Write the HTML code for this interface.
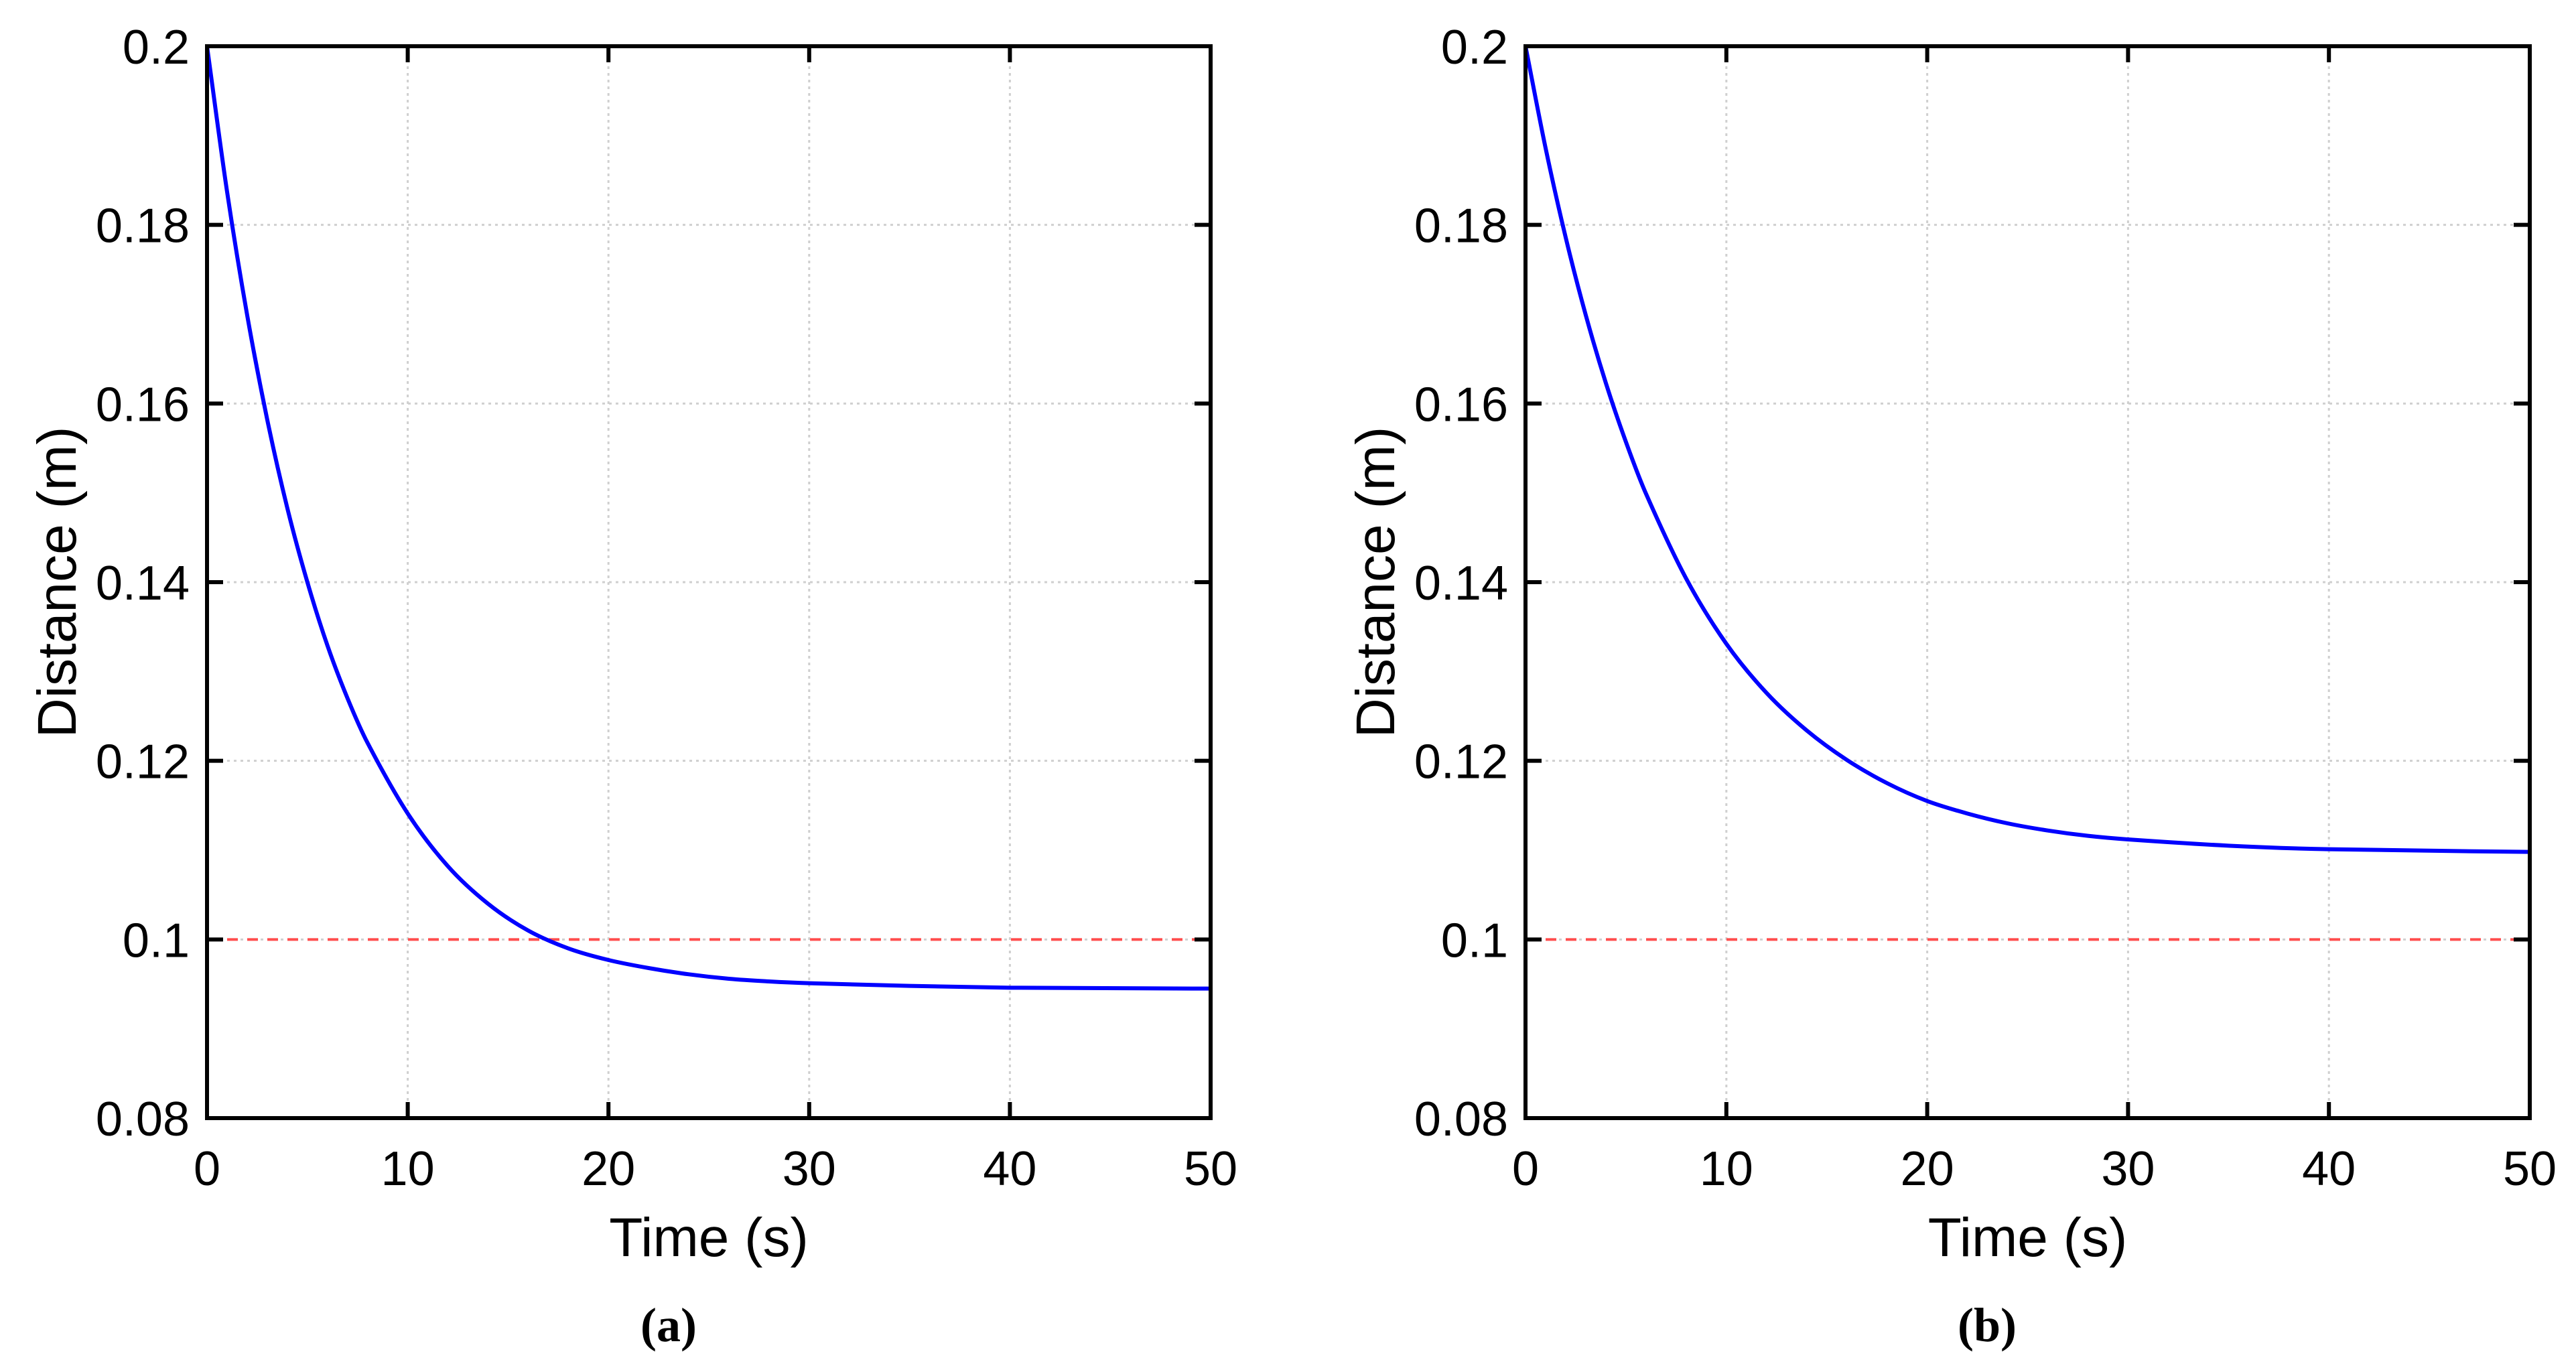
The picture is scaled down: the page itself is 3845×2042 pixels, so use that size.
<!DOCTYPE html>
<html><head><meta charset="utf-8"><style>
html,body{margin:0;padding:0;background:#fff;}
svg{display:block;}
text{font-family:"Liberation Sans",Arial,sans-serif;fill:#000;}
.cap{font-family:"Liberation Serif","Times New Roman",serif;font-weight:bold;}
</style></head><body>
<svg id="fig" width="3845" height="2042" viewBox="0 0 3845 2042" xmlns="http://www.w3.org/2000/svg"></svg>
<script>
const timesA = [0,1,2,3,4,5,6,7,8,10,12,14,16,18,20,22,24,26,28,30,35,40,50];
const distA  = [0.2,0.1837,0.1699,0.1582,0.1483,0.140,0.1329,0.127,0.122,0.1141,0.1082,0.1040,0.1010,0.0990,0.0977,0.0968,0.0961,0.0956,0.0953,0.0951,0.0948,0.0946,0.0945];
const timesB = [0,1,2,3,4,5,6,8,10,12,14,16,18,20,22,24,26,28,30,35,40,50];
const distB  = [0.2,0.1886,0.1786,0.1699,0.1623,0.1557,0.1499,0.1404,0.1331,0.1276,0.1234,0.1201,0.1175,0.1155,0.1141,0.1130,0.1122,0.1116,0.1112,0.1105,0.1101,0.1098];
const refValue = 0.1;
const xTicks = [0,10,20,30,40,50];
const yTicks = [0.08,0.1,0.12,0.14,0.16,0.18,0.2];
const yTickLabels = ["0.08","0.1","0.12","0.14","0.16","0.18","0.2"];

const NS="http://www.w3.org/2000/svg";
const svg=document.getElementById('fig');
function mk(tag,attrs,parent){const e=document.createElementNS(NS,tag);for(const k in attrs)e.setAttribute(k,attrs[k]);(parent||svg).appendChild(e);return e;}

function panel(id,left,right,times,dist,caption,capX){
  const top=69,bottom=1669;
  const xs=t=>left+(t-0)/(50-0)*(right-left);
  const ys=v=>bottom-(v-0.08)/(0.2-0.08)*(bottom-top);
  const g=mk('g',{});
  
  
  xTicks.forEach(t=>{ if(t===0||t===50)return;
    const l=mk('line',{x1:xs(t),x2:xs(t),y1:top,y2:bottom,stroke:'#cfcfcf','stroke-width':3,'stroke-dasharray':'4 6'},g);
    
    
  });
  yTicks.forEach(v=>{ if(v===0.08||v===0.2)return;
    const l=mk('line',{x1:left,x2:right,y1:ys(v),y2:ys(v),stroke:'#cfcfcf','stroke-width':3,'stroke-dasharray':'4 6'},g);
    
    
  });
  const r=mk('line',{x1:left,x2:right,y1:ys(refValue),y2:ys(refValue),stroke:'#ff4d4d','stroke-width':4,'stroke-dasharray':'16 14'},g);
  
  
  const p=times.map((t,i)=>[xs(t),ys(dist[i])]);
  let d='M'+p[0][0]+','+p[0][1];
  for(let i=0;i<p.length-1;i++){
    const p0=p[Math.max(0,i-1)],p1=p[i],p2=p[i+1],p3=p[Math.min(p.length-1,i+2)];
    const h=p2[0]-p1[0];
    const m1=(p2[1]-p0[1])/(p2[0]-p0[0]||1), m2=(p3[1]-p1[1])/(p3[0]-p1[0]||1);
    const c1=[p1[0]+h/3,p1[1]+m1*h/3];
    const c2=[p2[0]-h/3,p2[1]-m2*h/3];
    d+=' C'+c1[0]+','+c1[1]+' '+c2[0]+','+c2[1]+' '+p2[0]+','+p2[1];
  }
  const c=mk('path',{d:d,fill:'none',stroke:'#0000ff','stroke-width':6},g);
  
  
  xTicks.forEach(t=>{
    mk('line',{x1:xs(t),x2:xs(t),y1:bottom,y2:bottom-24,stroke:'#000','stroke-width':6},g);
    mk('line',{x1:xs(t),x2:xs(t),y1:top,y2:top+24,stroke:'#000','stroke-width':6},g);
    const tx=mk('text',{x:xs(t),y:1769,'font-size':72,'text-anchor':'middle'},g);
    tx.textContent=t;
    
    
  });
  yTicks.forEach((v,i)=>{
    mk('line',{x1:left,x2:left+24,y1:ys(v),y2:ys(v),stroke:'#000','stroke-width':6},g);
    mk('line',{x1:right,x2:right-24,y1:ys(v),y2:ys(v),stroke:'#000','stroke-width':6},g);
    const tx=mk('text',{x:left-26,y:ys(v)+26,'font-size':72,'text-anchor':'end'},g);
    tx.textContent=yTickLabels[i];
    
    
  });
  const box=mk('rect',{x:left,y:top,width:right-left,height:bottom-top,fill:'none',stroke:'#000','stroke-width':6},g);
  
  
  const xt=mk('text',{x:(left+right)/2,y:1875,'font-size':82,'text-anchor':'middle'},g);
  xt.textContent='Time (s)';
  
  
  const yx=left-196, yy=(top+bottom)/2;
  const yt=mk('text',{x:yx,y:yy,'font-size':82,'text-anchor':'middle',transform:'rotate(-90 '+yx+' '+yy+')'},g);
  yt.textContent='Distance (m)';
  
  
  const cp=mk('text',{x:capX,y:2002,'font-size':72,'text-anchor':'middle',class:'cap'},g);
  cp.textContent=caption;
  
  
}
panel('a',309,1807,timesA,distA,'(a)',998);
panel('b',2277,3776,timesB,distB,'(b)',2966);
</script>
</body></html>
